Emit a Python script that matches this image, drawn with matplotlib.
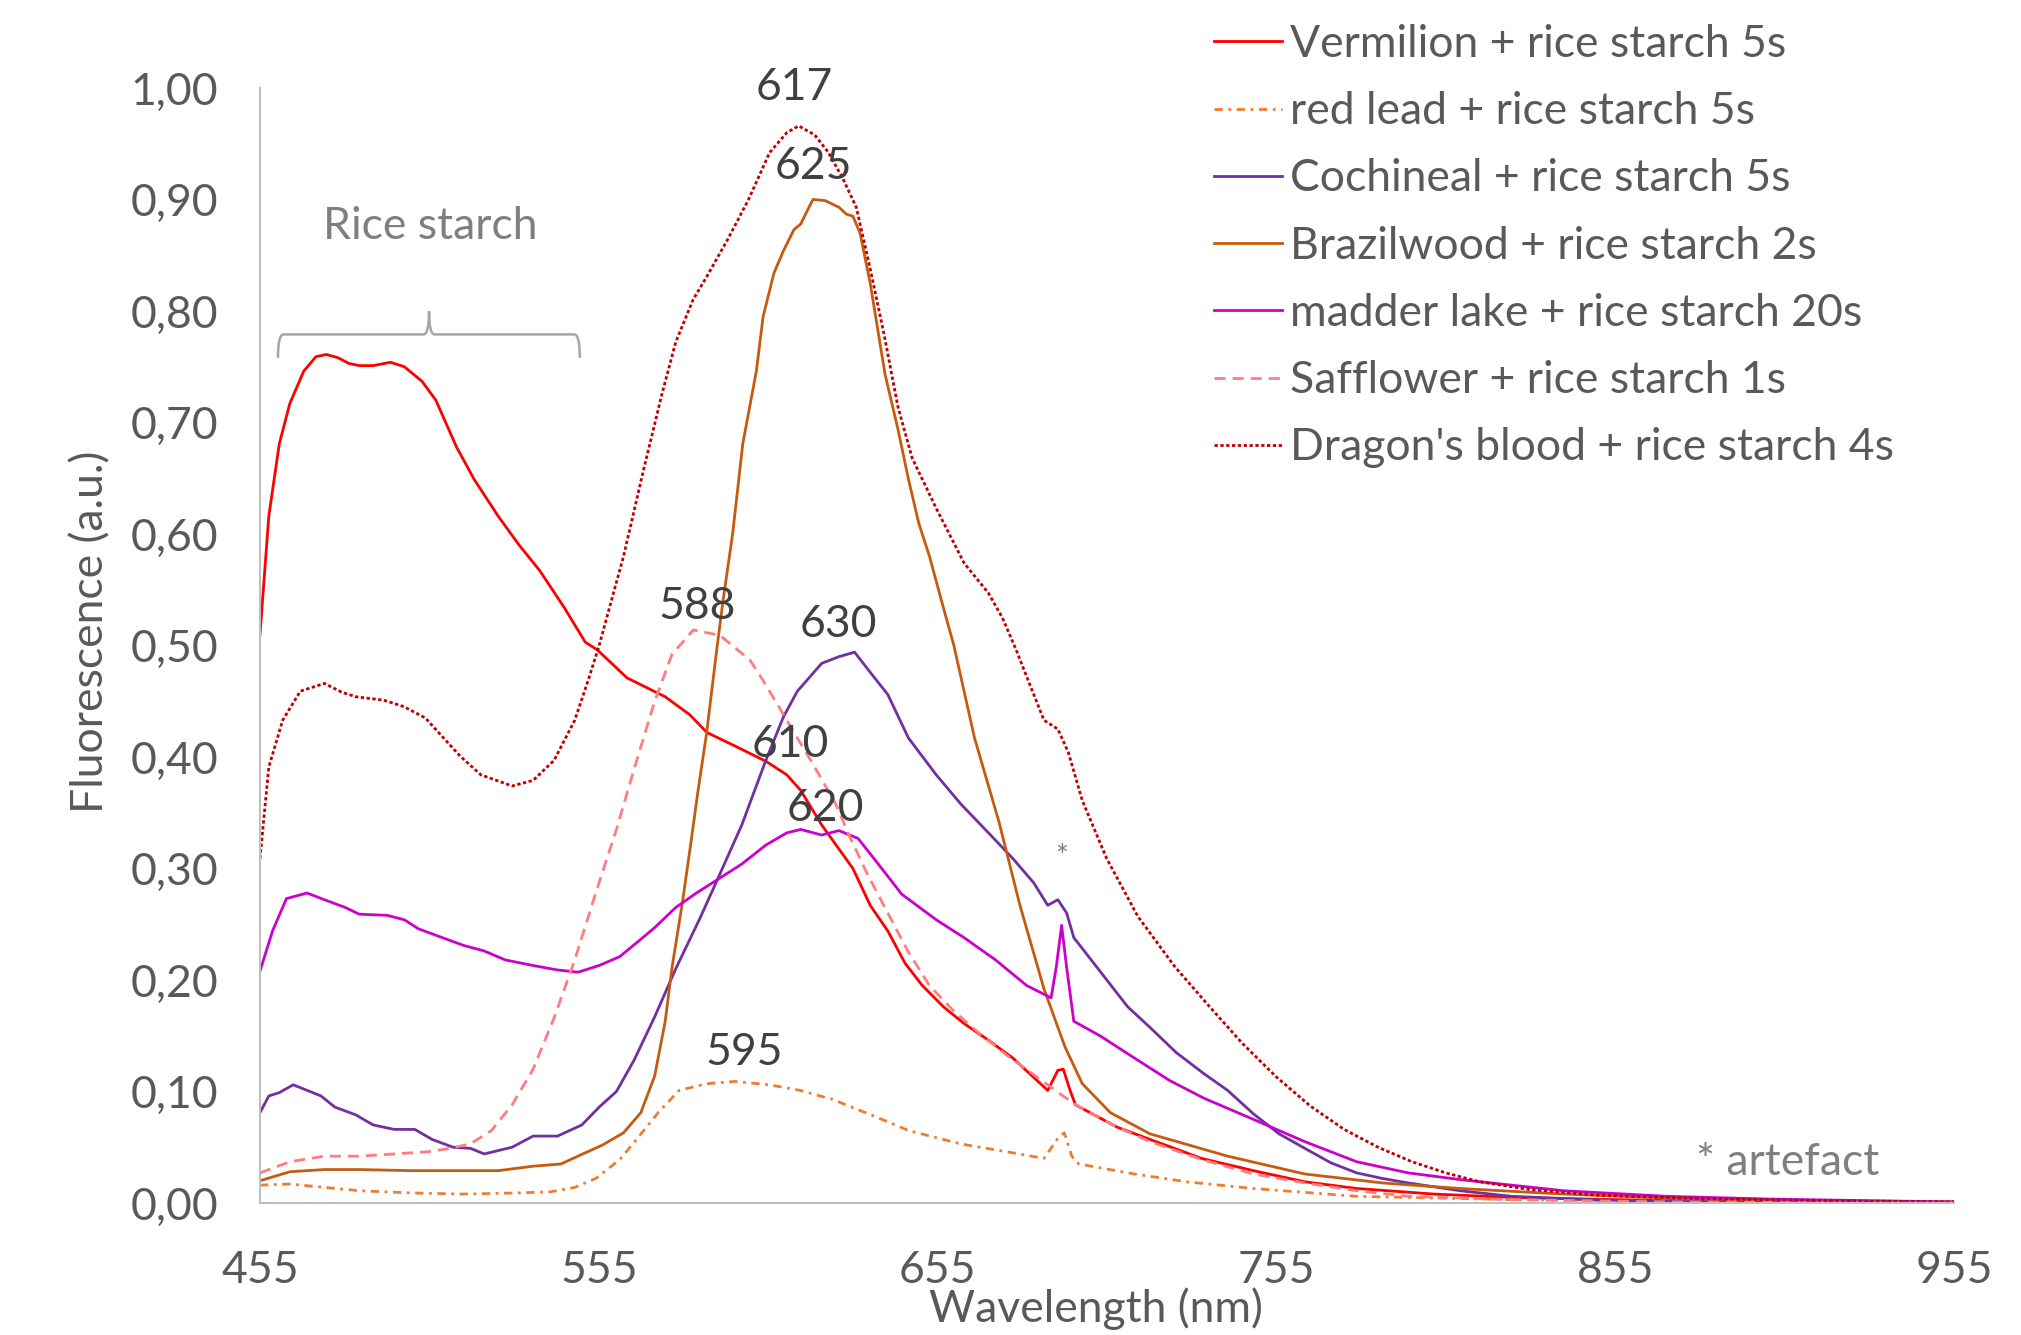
import matplotlib
matplotlib.use('Agg')
import matplotlib.pyplot as plt
from matplotlib.path import Path
from matplotlib.patches import PathPatch

plt.rcParams['font.family'] = ['Lato', 'DejaVu Sans']

# ---- data ----
vermilion_nm = [455, 457.6, 460.7, 463.8, 467.9, 471.5, 474.6, 478.1, 481.2, 484.3, 488.4, 493.5, 497.6,
                502.8, 506.9, 513, 518.2, 525.3, 531.5, 537.6, 544.8, 551, 554.6, 563.3, 574.6, 581.8,
                586.9, 595.1, 604.4, 610.5, 614.6, 620.8, 630, 635.1, 640.3, 645.4, 650.5, 656.7, 662.8,
                670, 677.2, 687.5, 690.5, 692.1, 694.1, 695.7, 708, 717.7, 732.9, 748.2, 763.4, 778.7,
                801.5, 824.4, 854.9, 900.6, 955]
vermilion_val = [0.510, 0.616, 0.681, 0.717, 0.746, 0.759, 0.761, 0.758, 0.753, 0.751, 0.751, 0.754, 0.750,
                 0.737, 0.720, 0.678, 0.649, 0.616, 0.590, 0.567, 0.534, 0.503, 0.496, 0.471, 0.454, 0.438,
                 0.422, 0.410, 0.396, 0.384, 0.370, 0.339, 0.300, 0.267, 0.244, 0.215, 0.195, 0.176, 0.161,
                 0.146, 0.130, 0.101, 0.119, 0.120, 0.101, 0.088, 0.068, 0.057, 0.040, 0.029, 0.019, 0.013,
                 0.008, 0.005, 0.003, 0.0013, 0.0003]

redlead_nm = [455, 463.8, 474, 484.3, 499.7, 515.1, 530.5, 540.7, 547.9, 554.1, 561.2, 566.4, 572.5, 578.7,
              586.9, 595.1, 605.4, 614.4, 623.9, 636.2, 646.4, 661.8, 677.2, 686.4, 690.5, 692.4, 694.6,
              696.7, 713.1, 728.5, 748.2, 778.7, 824.4, 955]
redlead_val = [0.016, 0.017, 0.014, 0.011, 0.009, 0.008, 0.009, 0.010, 0.014, 0.022, 0.039, 0.058, 0.081,
               0.101, 0.107, 0.109, 0.106, 0.101, 0.093, 0.078, 0.065, 0.053, 0.045, 0.040, 0.058, 0.063,
               0.042, 0.035, 0.026, 0.019, 0.013, 0.006, 0.003, 0.0]

cochineal_nm = [455, 457.6, 460.7, 464.8, 468.9, 473, 477.1, 483.3, 488.4, 494.6, 500.7, 505.8, 512, 517.1,
                521.2, 525.3, 529.4, 535.6, 542.8, 550, 555.1, 560.2, 565.4, 571.5, 577.7, 584.8, 590,
                597.2, 604.3, 609.5, 613.6, 620.8, 625.9, 630.5, 635.1, 640.3, 646.4, 654.6, 661.8, 670,
                677.2, 683.4, 687.5, 690.5, 693.1, 695.2, 702.9, 711.1, 718.2, 725.4, 733.6, 740.6, 748.2,
                755.8, 763.4, 771.1, 778.7, 786.3, 793.9, 809.2, 824.4, 847.3, 870, 916, 955]
cochineal_val = [0.081, 0.096, 0.099, 0.106, 0.101, 0.096, 0.086, 0.079, 0.070, 0.066, 0.066, 0.057, 0.050,
                 0.049, 0.044, 0.047, 0.050, 0.060, 0.060, 0.070, 0.086, 0.100, 0.128, 0.167, 0.210, 0.255,
                 0.290, 0.339, 0.397, 0.436, 0.459, 0.484, 0.490, 0.494, 0.476, 0.456, 0.417, 0.384, 0.358,
                 0.332, 0.309, 0.287, 0.267, 0.272, 0.260, 0.238, 0.208, 0.176, 0.156, 0.135, 0.116, 0.101,
                 0.080, 0.062, 0.049, 0.036, 0.027, 0.022, 0.018, 0.011, 0.006, 0.003, 0.0015, 0.0, 0.0]

brazil_nm = [455, 463.8, 474, 484.3, 499.7, 515.1, 525.3, 535.6, 543.8, 551, 556.1, 562.3, 567.4, 571.5,
             574.6, 576.6, 579.7, 581.9, 584.3, 586.8, 589.8, 591.7, 594.5, 597.5, 601.5, 603.5, 606.7,
             609.5, 612.6, 614.6, 616.7, 618.2, 621.8, 625.9, 628, 630, 632.1, 635.1, 637.2, 639.5,
             643.3, 646.4, 649.5, 652.6, 656.7, 659.8, 665.9, 673.1, 679.3, 686.4, 692.6, 697.7, 706,
             717.7, 740.6, 763.4, 786.3, 809.2, 839.7, 870.2, 916, 955]
brazil_val = [0.020, 0.028, 0.030, 0.030, 0.029, 0.029, 0.029, 0.033, 0.035, 0.045, 0.052, 0.063, 0.081,
              0.114, 0.163, 0.211, 0.270, 0.317, 0.370, 0.421, 0.496, 0.541, 0.600, 0.681, 0.746, 0.795,
              0.834, 0.854, 0.873, 0.878, 0.891, 0.900, 0.899, 0.893, 0.887, 0.885, 0.870, 0.825, 0.786,
              0.743, 0.694, 0.649, 0.609, 0.580, 0.534, 0.500, 0.417, 0.342, 0.267, 0.192, 0.140, 0.107,
              0.081, 0.062, 0.042, 0.026, 0.018, 0.013, 0.008, 0.0045, 0.002, 0.001]

madder_nm = [455, 458.7, 462.8, 468.9, 474, 480.2, 484.3, 492.5, 497.6, 501.7, 507.9, 515.1, 521.2, 527.4,
             535.6, 542.8, 548.9, 555.1, 561.2, 566.4, 571.5, 577.7, 583.8, 590, 597.2, 604.3, 610.5,
             614.6, 620.8, 625.9, 631.5, 636.2, 644.4, 654.6, 662.8, 672.1, 681.3, 688.5, 690, 691.6,
             693.1, 695.2, 702.9, 713.1, 723.4, 733.6, 748.2, 763.4, 778.7, 793.9, 809.2, 824.4, 839.7,
             870.1, 900.6, 931, 955]
madder_val = [0.208, 0.244, 0.273, 0.278, 0.272, 0.265, 0.259, 0.258, 0.254, 0.246, 0.239, 0.231, 0.226,
              0.218, 0.213, 0.209, 0.207, 0.213, 0.221, 0.234, 0.247, 0.265, 0.278, 0.290, 0.304, 0.321,
              0.332, 0.335, 0.330, 0.334, 0.327, 0.309, 0.277, 0.254, 0.238, 0.218, 0.195, 0.184, 0.211,
              0.249, 0.211, 0.163, 0.150, 0.130, 0.110, 0.094, 0.075, 0.055, 0.037, 0.027, 0.021, 0.016,
              0.011, 0.006, 0.0035, 0.002, 0.001]

safflower_nm = [455, 463.8, 474, 484.3, 494.6, 504.8, 511, 517.1, 523.3, 529.4, 535.6, 541.8, 547.9, 554.1,
                560.2, 565.5, 571.5, 576.6, 582.9, 590.8, 599.6, 603.4, 610.5, 618.7, 624.9, 629, 634.1,
                640.3, 646.4, 652.6, 659.8, 667, 675.2, 687.5, 695.7, 708, 717.7, 732.9, 748.2, 763.4,
                778.7, 793.9, 824.4, 870, 955]
safflower_val = [0.027, 0.037, 0.042, 0.042, 0.044, 0.046, 0.049, 0.053, 0.065, 0.088, 0.120, 0.166, 0.218,
                 0.278, 0.335, 0.390, 0.450, 0.492, 0.514, 0.509, 0.487, 0.469, 0.433, 0.391, 0.358, 0.329,
                 0.296, 0.260, 0.225, 0.195, 0.172, 0.153, 0.133, 0.106, 0.088, 0.068, 0.055, 0.039, 0.026,
                 0.018, 0.011, 0.006, 0.003, 0.001, 0.0]

dragon_nm = [455, 457.6, 461.7, 466.9, 474, 479.2, 483.3, 491.5, 497.6, 503.8, 508.9, 514, 520.2, 529.4,
             535.6, 541.8, 547.9, 552, 555.1, 562.3, 568.4, 573.6, 577.7, 582.8, 586.9, 593, 599.2, 605.4,
             610.5, 614, 618.7, 622.8, 627, 631, 635.1, 639.2, 643.3, 647.5, 654.6, 662.8, 670, 674.1,
             678.2, 681.3, 686.4, 690.5, 693.6, 697.7, 704.9, 714.1, 725, 735, 745, 755, 765, 775, 785,
             795, 805, 815, 830, 850, 880, 920, 955]
dragon_val = [0.309, 0.391, 0.433, 0.459, 0.466, 0.458, 0.454, 0.451, 0.445, 0.435, 0.418, 0.401, 0.384,
              0.374, 0.379, 0.397, 0.433, 0.470, 0.500, 0.580, 0.660, 0.725, 0.772, 0.810, 0.831, 0.864,
              0.900, 0.942, 0.960, 0.966, 0.958, 0.942, 0.919, 0.893, 0.838, 0.779, 0.714, 0.668, 0.623,
              0.574, 0.547, 0.525, 0.496, 0.472, 0.433, 0.425, 0.404, 0.361, 0.309, 0.257, 0.212, 0.177,
              0.143, 0.113, 0.087, 0.066, 0.050, 0.037, 0.027, 0.019, 0.012, 0.007, 0.004, 0.002, 0.001]

series_labels = ['Vermilion + rice starch 5s', 'red lead + rice starch 5s', 'Cochineal + rice starch 5s',
                 'Brazilwood + rice starch 2s', 'madder lake + rice starch 20s', 'Safflower + rice starch 1s',
                 "Dragon's blood + rice starch 4s"]

peak_texts = ['617', '625', '588', '630', '610', '620', '595']
peak_nm = [612.6, 618.2, 584.0, 625.6, 611.4, 621.8, 597.9]
peak_val = [1.0, 0.930, 0.535, 0.519, 0.411, 0.354, 0.135]

xticks = [455, 555, 655, 755, 855, 955]
yticks = [0.0, 0.1, 0.2, 0.3, 0.4, 0.5, 0.6, 0.7, 0.8, 0.9, 1.0]

# ---- figure ----
fig = plt.figure(figsize=(20.21, 13.35), dpi=100)
ax = fig.add_axes([0.12865, 0.09888, 0.83820, 0.83521])

fs = 32
lw = 2.0
ax.plot(vermilion_nm, vermilion_val, color='#FF0000', lw=lw, label=series_labels[0])
ax.plot(redlead_nm, redlead_val, color='#ED7D31', lw=lw, ls=(0, (3, 2, 1, 2)), label=series_labels[1])
ax.plot(cochineal_nm, cochineal_val, color='#7030A0', lw=lw, label=series_labels[2])
ax.plot(brazil_nm, brazil_val, color='#C55A11', lw=lw, label=series_labels[3])
ax.plot(madder_nm, madder_val, color='#CC00CC', lw=lw, label=series_labels[4])
ax.plot(safflower_nm, safflower_val, color='#FF7C80', lw=lw, ls=(0, (4, 2.5)), label=series_labels[5])
ax.plot(dragon_nm, dragon_val, color='#C00000', lw=lw, ls=(0, (1.2, 0.9)), label=series_labels[6])

ax.set_xlim(455, 955)
ax.set_ylim(0, 1.0)
ax.set_xticks(xticks)
ax.set_yticks(yticks)
ax.set_yticklabels([f'{v:.2f}'.replace('.', ',') for v in yticks])
ax.tick_params(length=0, labelsize=fs, labelcolor='#595959')
ax.tick_params(axis='y', pad=30)
ax.tick_params(axis='x', pad=34)

for s in ['top', 'right']:
    ax.spines[s].set_visible(False)
ax.spines['left'].set_color('#BFBFBF')
ax.spines['bottom'].set_color('#BFBFBF')
ax.spines['left'].set_linewidth(1.5)
ax.spines['bottom'].set_linewidth(1.5)

ax.set_xlabel('Wavelength (nm)', fontsize=fs, color='#595959', va='center')
ax.set_ylabel('Fluorescence (a.u.)', fontsize=fs, color='#595959', va='center')
ax.xaxis.set_label_coords(0.4935, -0.095)
ax.yaxis.set_label_coords(-0.1, 0.512)

# peak labels
for t, xn, yv in zip(peak_texts, peak_nm, peak_val):
    ax.text(xn, yv, t, fontsize=fs, color='#404040', ha='center', va='center')

ax.text(691.7, 0.310, '*', fontsize=22, color='#7F7F7F', ha='center', va='center')
ax.text(906.0, 0.036, '* artefact', fontsize=fs, color='#7F7F7F', ha='center', va='center')
ax.text(505.2, 0.876, 'Rice starch', fontsize=fs, color='#7F7F7F', ha='center', va='center')

# curly brace over the rice starch region
x0, x1, xc = 460.3, 549.4, 504.9
yl, ylow, ypk = 0.779, 0.758, 0.800
r = 1.6
verts = [(x0, ylow), (x0, yl), (x0 + r, yl), (xc - r, yl), (xc, yl), (xc, ypk),
         (xc, yl), (xc + r, yl), (x1 - r, yl), (x1, yl), (x1, ylow)]
codes = [Path.MOVETO, Path.CURVE3, Path.CURVE3, Path.LINETO, Path.CURVE3, Path.CURVE3,
         Path.CURVE3, Path.CURVE3, Path.LINETO, Path.CURVE3, Path.CURVE3]
ax.add_patch(PathPatch(Path(verts, codes), fc='none', ec='#A6A6A6', lw=1.8))

# legend
leg = fig.legend(loc='upper left', bbox_to_anchor=(1214 / 2021, 1 - 24 / 1335), frameon=False,
                 fontsize=fs, handlelength=1.53, handletextpad=0.17, labelspacing=0.59, borderpad=0,
                 borderaxespad=0)
for t in leg.get_texts():
    t.set_color('#595959')

fig.savefig('out.png', dpi=100)
